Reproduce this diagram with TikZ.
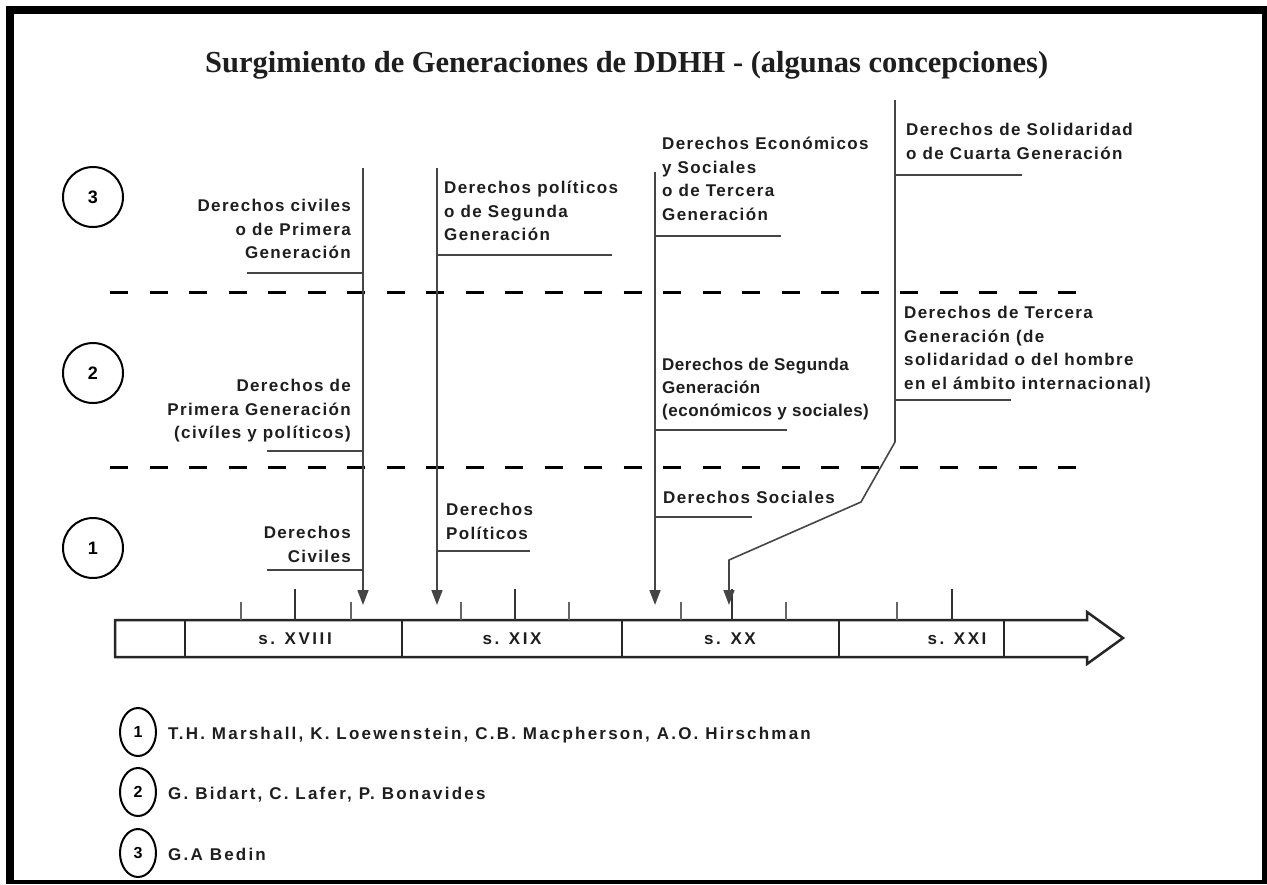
\documentclass[tikz,border=0pt]{standalone}
\usepackage{fontspec}
\newfontfamily\lblf[LetterSpace=8]{Liberation Sans}
\newfontfamily\lbltf[LetterSpace=3]{Liberation Sans}
\newfontfamily\legf[LetterSpace=13]{Liberation Sans}
\newfontfamily\cenf[LetterSpace=15]{Liberation Sans}
\newfontfamily\titf{Liberation Serif}
\usetikzlibrary{arrows.meta,shapes.geometric}
\definecolor{ink}{HTML}{1E1E1E}
\definecolor{ln}{HTML}{454545}
\begin{document}
\begin{tikzpicture}[x=1pt,y=-1pt,
  lbl/.style={font=\lblf\bfseries\fontsize{17}{23.5}\selectfont, inner sep=0pt, text=ink},
  lbll/.style={lbl, align=left, anchor=north west},
  lblr/.style={lbl, align=right, anchor=north east},
  lblt/.style={lbll, font=\lbltf\bfseries\fontsize{17}{23}\selectfont},
  legt/.style={lbl, font=\legf\bfseries\fontsize{17}{20}\selectfont, anchor=base west},
  vline/.style={line width=1.6pt, draw=ln},
  uline/.style={line width=1.8pt, draw=ln},
  ptr/.style={vline, line join=round, -{Triangle[length=15pt,width=11pt]}},
  dashline/.style={line width=3pt, draw=black, dash pattern=on 18pt off 21.5pt},
  barline/.style={line width=2.5pt, draw=black!85},
  tickmaj/.style={line width=2.2pt, draw=black!80},
  tickmin/.style={line width=1.6pt, draw=black!60},
  numc/.style={circle, draw=black, line width=2pt, minimum size=60pt, inner sep=0pt, font=\lblf\bfseries\fontsize{18}{20}\selectfont},
  legc/.style={ellipse, draw=black, line width=2pt, minimum width=36pt, minimum height=48pt, inner sep=0pt, font=\lblf\bfseries\fontsize{16}{20}\selectfont},
  cent/.style={font=\cenf\bfseries\fontsize{17}{20}\selectfont, text=ink, inner sep=0pt}
]
\useasboundingbox (0,0) rectangle (1267,884);
% frame
\fill[black] (6,6) rectangle (1267,884);
\fill[white] (14,14) rectangle (1262,880);

% title
\node[font=\titf\bfseries\fontsize{30.5}{36}\selectfont, anchor=base west, inner sep=0pt, text=ink] (title) at (205,72)
  {Surgimiento de Generaciones de DDHH - (algunas concepciones)};

% dashed separators
\coordinate (s1a) at (110,292); \coordinate (s1b) at (1076,292);
\coordinate (s2a) at (110,467); \coordinate (s2b) at (1076,467);
\draw[dashline] (s1a) -- (s1b);
\draw[dashline] (s2a) -- (s2b);

% level circles
\node[numc] (c3) at (93,197) {3};
\node[numc] (c2) at (93,373) {2};
\node[numc] (c1) at (93,548) {1};

% time bar
\draw[barline, line join=miter] (115,620) -- (1087,620) -- (1087,612) -- (1123,638) -- (1087,664) -- (1087,657) -- (115,657) -- cycle;
\foreach \x in {185,402,622,839,1004} \draw[barline] (\x,620) -- (\x,657);
\foreach \x in {295,515,732,952} \draw[tickmaj] (\x,620) -- (\x,589);
\foreach \x in {241,351,461,569,681,786,897} \draw[tickmin] (\x,620) -- (\x,602);
\node[cent] (sXVIII) at (295,639) {s. XVIII};
\node[cent] (sXIX) at (512,639) {s. XIX};
\node[cent] (sXX) at (730,639) {s. XX};
\node[cent] (sXXI) at (957,639) {s. XXI};

% pointer lines
\coordinate (aT) at (363,168); \coordinate (aB) at (363,605);
\coordinate (bT) at (437,168); \coordinate (bB) at (437,605);
\coordinate (cT) at (655,172); \coordinate (cB) at (655,605);
\coordinate (dT) at (895,100); \coordinate (d1) at (895,442);
\coordinate (d2) at (861,502); \coordinate (d3) at (729,560); \coordinate (dB) at (729,605);
\draw[ptr] (aT) -- (aB);
\draw[ptr] (bT) -- (bB);
\draw[ptr] (cT) -- (cB);
\draw[ptr] (dT) -- (d1) -- (d2) -- (d3) -- (dB);

% labels, level 3
\node[lblr] (l3a) at (351,199) {Derechos civiles\\o de Primera\\Generación};
\node[lbll] (l3b) at (444,181) {Derechos políticos\\o de Segunda\\Generación};
\node[lbll] (l3c) at (662,137) {Derechos Económicos\\y Sociales\\o de Tercera\\Generación};
\node[lbll] (l3d) at (906,123) {Derechos de Solidaridad\\o de Cuarta Generación};
% level 2
\node[lblr] (l2a) at (351,379) {Derechos de\\Primera Generación\\(civíles y políticos)};
\node[lblt] (l2b) at (662,358) {Derechos de Segunda\\Generación\\(económicos y sociales)};
\node[lbll] (l2c) at (904,306) {Derechos de Tercera\\Generación (de\\solidaridad o del hombre\\en el ámbito internacional)};
% level 1
\node[lblr] (l1a) at (351,526) {Derechos\\Civiles};
\node[lbll] (l1b) at (446,503) {Derechos\\Políticos};
\node[lbll] (l1c) at (663,491) {Derechos Sociales};

% underlines
\coordinate (u3a) at (247,273); \draw[uline] (u3a) -- (u3a -| aT);
\coordinate (u3b) at (612,255); \draw[uline] (u3b) -- (u3b -| bT);
\coordinate (u3c) at (781,236); \draw[uline] (u3c) -- (u3c -| cT);
\coordinate (u3d) at (1022,175); \draw[uline] (u3d) -- (u3d -| dT);
\coordinate (u2a) at (267,451); \draw[uline] (u2a) -- (u2a -| aT);
\coordinate (u2b) at (787,430); \draw[uline] (u2b) -- (u2b -| cT);
\coordinate (u2c) at (1011,400); \draw[uline] (u2c) -- (u2c -| dT);
\coordinate (u1a) at (267,570); \draw[uline] (u1a) -- (u1a -| aT);
\coordinate (u1b) at (530,551); \draw[uline] (u1b) -- (u1b -| bT);
\coordinate (u1c) at (752,517); \draw[uline] (u1c) -- (u1c -| cT);

% legend
\node[legc] (g1) at (138,732) {1};
\node[legc] (g2) at (138,792) {2};
\node[legc] (g3) at (138,853) {3};
\node[legt] (t1) at (168,739) {T.H. Marshall, K. Loewenstein, C.B. Macpherson, A.O. Hirschman};
\node[legt] (t2) at (168,799) {G. Bidart, C. Lafer, P. Bonavides};
\node[legt] (t3) at (168,860) {G.A Bedin};
\end{tikzpicture}
\end{document}
